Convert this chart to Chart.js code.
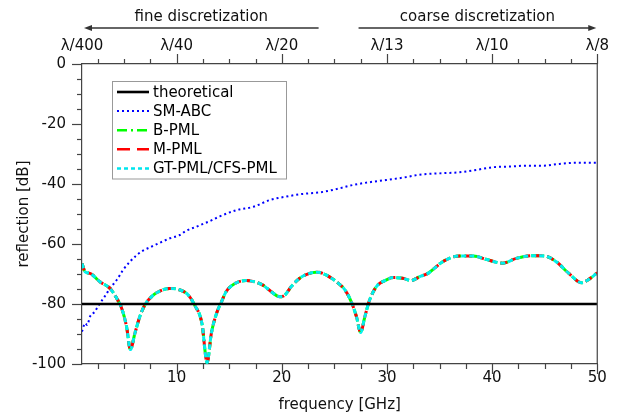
<!DOCTYPE html>
<html>
<head>
<meta charset="utf-8">
<script src="https://cdn.jsdelivr.net/npm/chart.js@4"></script>
<style>
  html, body { margin: 0; padding: 0; background: #fff; }
  #wrap { width: 618px; height: 418px; }
</style>
</head>
<body>
<div id="wrap"><canvas id="chart" width="618" height="418"></canvas></div>
<script>
// values
const pmlFreq = [1.0, 1.3, 1.76, 2.7, 3.66, 4.3, 4.77, 5.24, 5.6, 6.03, 6.5, 6.98, 7.6, 8.4, 9.36, 10.3,
  11.1, 11.7, 12.4, 12.9, 13.3, 13.8, 14.3, 14.7, 15.7, 16.6, 17.4, 18.2, 19.0, 19.8, 20.3, 20.9,
  21.7, 22.65, 23.4, 24.2, 25.2, 26.0, 26.6, 27.1, 27.5, 27.9, 28.35, 29.0, 29.8, 30.6, 31.5, 32.3,
  33.1, 33.9, 35.3, 36.9, 38.2, 39.4, 41.0, 42.3, 43.9, 45.0, 46.1, 47.3, 48.5, 49.1, 50.0];
const pmlDb = [-66.5, -69.3, -69.8, -72.6, -74.8, -78.1, -81.4, -87.6, -95.2, -89.8, -84.2, -80.3, -77.6, -75.7, -74.8, -75.3,
  -77.0, -80.3, -86.4, -99.5, -89.8, -83.1, -79.0, -75.9, -72.9, -72.2, -72.6, -73.7, -75.9, -77.6, -77.0, -74.2,
  -71.4, -69.8, -69.4, -70.3, -72.6, -75.3, -79.2, -84.2, -89.5, -84.2, -78.7, -74.2, -72.2, -71.2, -71.4, -72.2,
  -70.9, -69.8, -65.9, -64.0, -64.0, -65.1, -66.4, -64.8, -63.9, -64.0, -65.9, -69.8, -72.9, -72.0, -69.6];

const abcFreq = [1.0, 1.3, 1.5, 1.76, 2.2, 2.7, 3.2, 3.66, 4.3, 4.9, 5.56, 6.2, 6.8, 7.6, 8.4, 9.36, 10.3,
  10.9, 11.9, 13.2, 14.1, 15.7, 17.3, 18.9, 20.4, 22.0, 23.6, 25.2, 26.8, 28.35, 29.9, 31.5, 33.1,
  35.3, 36.9, 38.5, 40.1, 41.6, 43.2, 44.8, 46.4, 48.0, 50.0];
const abcDb = [-89.2, -86.4, -87.0, -84.2, -82.6, -79.8, -77.3, -74.8, -72.0, -68.7, -65.9, -63.7, -62.2, -60.9, -59.6, -58.1, -57.0,
  -55.6, -54.2, -52.3, -50.8, -48.7, -47.6, -45.3, -44.2, -43.3, -42.8, -41.7, -40.3, -39.4, -38.7, -37.9, -36.9,
  -36.4, -36.1, -35.3, -34.4, -34.2, -33.9, -33.9, -33.3, -32.9, -32.9];

const theoryFreq = [1, 50];
const theoryDb = [-80, -80];

const freqTicks = [10, 20, 30, 40, 50];
const topTickFreq = [1, 10, 20, 30, 40, 50];
const topTickLabels = ['λ/400', 'λ/40', 'λ/20', 'λ/13', 'λ/10', 'λ/8'];
const dbTicks = [0, -20, -40, -60, -80, -100];

function pts(xs, ys) {
  return xs.map((x, i) => ({ x: x, y: ys[i] }));
}

const FONT = 'DejaVu Sans';
const AXIS = '#444';
Chart.defaults.font.family = FONT;
Chart.defaults.font.size = 15;
Chart.defaults.color = '#111';

const legendItems = [
  { text: 'theoretical', color: '#000000', dash: [], width: 2.6 },
  { text: 'SM-ABC', color: '#0000ff', dash: [2, 3], width: 2 },
  { text: 'B-PML', color: '#00ff00', dash: [10, 4, 2, 4], width: 2.5 },
  { text: 'M-PML', color: '#ff0000', dash: [13, 7], width: 2.5 },
  { text: 'GT-PML/CFS-PML', color: '#00e5ee', dash: [4, 3], width: 2.5 }
];

function seg(ctx, x1, y1, x2, y2) {
  ctx.beginPath();
  ctx.moveTo(x1, y1);
  ctx.lineTo(x2, y2);
  ctx.stroke();
}

const frame = {
  id: 'frame',
  afterDraw(chart) {
    const { ctx, chartArea: a, scales } = chart;
    const x = scales.x, y = scales.y;
    ctx.save();
    ctx.strokeStyle = AXIS;
    ctx.lineWidth = 1.2;
    seg(ctx, a.right, a.top, a.right, a.bottom);

    // ticks, outward
    for (let f = 2.5; f <= 50; f += 2.5) {
      const px = Math.round(x.getPixelForValue(f)) + 0.5;
      const len = f % 10 === 0 ? 10 : 5;
      seg(ctx, px, a.bottom, px, a.bottom + len);
      seg(ctx, px, a.top, px, a.top - len);
    }
    for (let d = 0; d >= -100; d -= 5) {
      const py = Math.round(y.getPixelForValue(d)) + 0.5;
      const len = d % 20 === 0 ? 10 : 5;
      seg(ctx, a.left - len, py, a.left, py);
    }

    // discretization arrows
    ctx.fillStyle = '#333';
    ctx.strokeStyle = '#333';
    ctx.lineWidth = 1.5;
    const ay = 28;
    const f1 = a.left + 2, f2 = x.getPixelForValue(23.5);
    const c1 = x.getPixelForValue(27.3), c2 = a.right - 1;
    seg(ctx, f1 + 6, ay, f2, ay);
    ctx.beginPath();
    ctx.moveTo(f1, ay); ctx.lineTo(f1 + 8, ay - 3); ctx.lineTo(f1 + 8, ay + 3); ctx.closePath(); ctx.fill();
    seg(ctx, c1, ay, c2 - 6, ay);
    ctx.beginPath();
    ctx.moveTo(c2, ay); ctx.lineTo(c2 - 8, ay - 3); ctx.lineTo(c2 - 8, ay + 3); ctx.closePath(); ctx.fill();

    ctx.font = '15px "' + FONT + '"';
    ctx.fillStyle = '#111';
    ctx.textAlign = 'center';
    ctx.textBaseline = 'middle';
    ctx.fillText('fine discretization', (f1 + f2) / 2, 17);
    ctx.fillText('coarse discretization', (c1 + c2) / 2, 17);

    // legend box
    const bx = 112.5, by = 81.5, bw = 174, bh = 97.5;
    ctx.fillStyle = '#fff';
    ctx.fillRect(bx, by, bw, bh);
    ctx.strokeStyle = '#999';
    ctx.lineWidth = 1;
    ctx.strokeRect(bx, by, bw, bh);
    ctx.textAlign = 'left';
    legendItems.forEach((it, i) => {
      const ry = 92 + i * 19.1;
      ctx.strokeStyle = it.color;
      ctx.lineWidth = it.width;
      ctx.setLineDash(it.dash);
      seg(ctx, 117, ry, 149, ry);
      ctx.setLineDash([]);
      ctx.fillStyle = '#000';
      ctx.fillText(it.text, 153, ry + 1);
    });
    ctx.restore();
  }
};

new Chart(document.getElementById('chart'), {
  type: 'line',
  data: {
    datasets: [
      { label: 'theoretical', data: pts(theoryFreq, theoryDb), borderColor: '#000000', borderWidth: 2.6, order: 0 },
      { label: 'GT-PML/CFS-PML', data: pts(pmlFreq, pmlDb), borderColor: '#00eeee', borderWidth: 3, borderDash: [5, 3], order: 1 },
      { label: 'M-PML', data: pts(pmlFreq, pmlDb), borderColor: '#ff0000', borderWidth: 3, borderDash: [7, 5], order: 2 },
      { label: 'B-PML', data: pts(pmlFreq, pmlDb), borderColor: '#00ff00', borderWidth: 3, borderDash: [8, 3, 2, 3], order: 3 },
      { label: 'SM-ABC', data: pts(abcFreq, abcDb), borderColor: '#0000ff', borderWidth: 2, borderDash: [2, 3], order: 4 }
    ]
  },
  options: {
    responsive: false,
    animation: false,
    layout: { padding: { left: 0, right: 20, top: 0, bottom: 0 } },
    elements: {
      point: { radius: 0, hoverRadius: 0 },
      line: { cubicInterpolationMode: 'monotone', fill: false }
    },
    plugins: { legend: { display: false }, tooltip: { enabled: false } },
    scales: {
      x: {
        type: 'linear', position: 'bottom', min: 1, max: 50,
        afterFit(s) { s.height = 54; },
        afterBuildTicks(s) { s.ticks = freqTicks.map(v => ({ value: v })); },
        grid: { display: false, drawTicks: false },
        border: { display: true, color: AXIS, width: 1.2 },
        ticks: { padding: 5, maxRotation: 0, autoSkip: false },
        title: { display: true, text: 'frequency [GHz]', padding: { top: 0, bottom: 4 } }
      },
      x2: {
        type: 'linear', position: 'top', min: 1, max: 50,
        afterFit(s) { s.height = 64; },
        afterBuildTicks(s) { s.ticks = topTickFreq.map(v => ({ value: v })); },
        grid: { display: false, drawTicks: false },
        border: { display: true, color: AXIS, width: 1.2 },
        ticks: { padding: 9, maxRotation: 0, autoSkip: false, callback: (v, i) => topTickLabels[i] }
      },
      y: {
        type: 'linear', min: -100, max: 0,
        afterFit(s) { s.width = 82; },
        afterBuildTicks(s) { s.ticks = dbTicks.map(v => ({ value: v })); },
        grid: { display: false, drawTicks: false },
        border: { display: true, color: AXIS, width: 1.2 },
        ticks: { padding: 16 },
        title: { display: true, text: 'reflection [dB]', padding: { top: 15, bottom: 0 } }
      }
    }
  },
  plugins: [frame]
});
</script>
</body>
</html>
